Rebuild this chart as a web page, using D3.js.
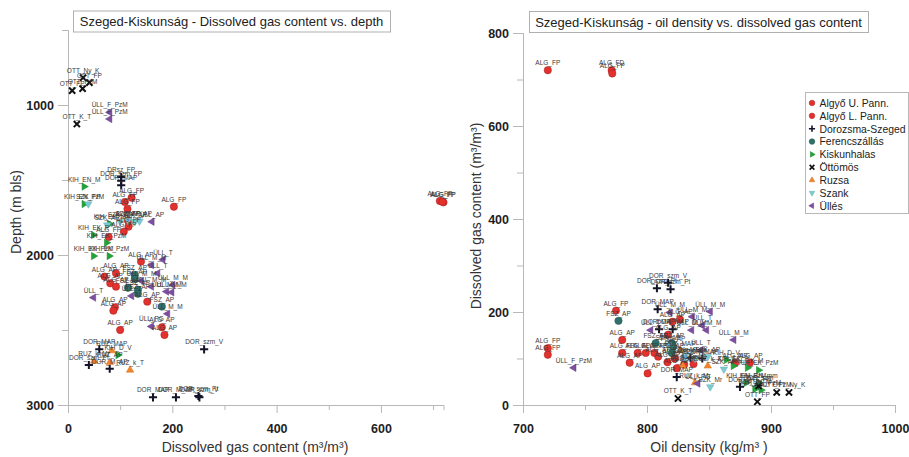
<!DOCTYPE html>
<html>
<head>
<meta charset="utf-8">
<script src="https://cdn.jsdelivr.net/npm/d3@7"></script>
<style>
  html, body { margin: 0; padding: 0; background: #fff; }
  svg { display: block; font-family: Arial, "Liberation Sans", sans-serif; }
</style>
</head>
<body>
<svg id="chart" width="909" height="457"></svg>
<script>
// ---- Series (legend order) ----
const seriesNames = ["Algyő U. Pann.", "Algyő L. Pann.", "Dorozsma-Szeged", "Ferencszállás",
  "Kiskunhalas", "Öttömös", "Ruzsa", "Szank", "Üllés"];

// ---- Left panel: [gas content m3/m3, depth m bls, label] ----
const depthAlgyoU = [[122,1618,"ALG_FP"],[109,1647,"ALG_FP"],[114,1693,"ALG_FP"],[203,1678,"ALG_FP"],
  [713,1640,"ALG_FP"],[720,1649,"ALG_FP"],[718,1645,"ALG_FP"],[115,1771,"ALG_FP"],[116,1811,"ALG_FP"],
  [107,1844,"ALG_FP"],[78,1880,"ALG_FP"]];
const depthAlgyoL = [[140,2044,"ALG_AP"],[70,2144,"ALG_AP"],[92,2122,"ALG_AP"],[81,2189,"ALG_AP"],
  [92,2211,"ALG_AP"],[152,2311,"ALG_AP"],[90,2349,"ALG_AP"],[87,2371,"ALG_AP"],[100,2500,"ALG_AP"],
  [180,2482,"ALG_AP"],[185,2533,"ALG_AP"]];
const depthDorozsma = [[102,1480,"DRsz_FP"],[102,1505,"DOR_szm_FP"],[102,1535,"DOR_MAP"],[60,2629,"DOR_MAP"],
  [261,2629,"DOR_szm_V"],[40,2733,"DOR_szm_Pt"],[80,2758,"DOR_M_AP"],[163,2949,"DOR_MAP"],
  [207,2949,"DOR_M_AP"],[250,2940,"DOR_szm_Pt"],[252,2949,"DOR_szm_V"]];
const depthFerencszallas = [[128,2133,"FSZ_AP"],[128,2160,"FSZ_AP"],[115,2218,"FSZ_AP"],[134,2231,"FSZ_AP"],
  [134,2258,"FSZ_AP"],[180,2344,"FSZ_AP"]];
const depthKiskunhalas = [[31,1544,"KIH_EN_M"],[31,1660,"KIH_EN_PzM"],[80,1793,"KIH_EK_M"],[49,1867,"KIH_EK_P"],
  [74,1918,"KIH_EK_PzM"],[49,2007,"KIH_EK_PzM"],[79,2007,"KIH_EK_PzM"],[96,2667,"KIH_D_V"]];
const depthOttomos = [[29,818,"OTT_Ny_K"],[41,851,"OTT_FP"],[28,891,"OTT_PzM"],[8,904,"OTT_FP"],[17,1127,"OTT_K_T"]];
const depthRuzsa = [[84,2638,"RUZ_MAP"],[50,2707,"RUZ_k_Mr"],[80,2716,"RUZ_AP"],[119,2767,"RUZ_k_T"]];
const depthSzank = [[39,1660,"SZK_FP"],[75,1800,"SZK_AP"],[100,1778,"SZK_AP"],[115,1770,"SZK_AP"],
  [128,1778,"SZK_AP"],[137,1775,"SZK_AP"]];
const depthUlles = [[80,1049,"ÜLL_F_PzM"],[80,1093,"ÜLL_F_PzM"],[161,1778,"ÜLL_AP"],[182,2031,"ÜLL_T"],
  [160,2067,"ÜLL_M_M"],[172,2122,"ÜLL_T"],[141,2173,"ÜLL_M_M"],[160,2211,"ÜLL_M_M"],[201,2200,"ÜLL_M_M"],
  [189,2244,"ÜLL_M_M"],[199,2249,"ÜLL_M_M"],[122,2273,"ÜLL_T"],[49,2284,"ÜLL_T"],[191,2392,"ÜLL_M_M"],
  [160,2476,"ÜLL_PG"]];

// ---- Right panel: [oil density kg/m3, gas content m3/m3, label] ----
const densAlgyoU = [[720,720,"ALG_FP"],[771.5,720,"ALG_FD"],[772,713,"ALG_FP"],[775,203,"ALG_FP"],
  [720,122,"ALG_FP"],[720,108,"ALG_FP"],[780,112,"ALG_FP"],[792.5,112,"ALG_FP"]];
const densAlgyoL = [[820.4,179,"ALG_AP"],[826.6,184,"ALG_AP"],[780,140,"ALG_AP"],[817,151,"ALG_AP"],
  [799,112,"ALG_AP"],[806,112,"ALG_AP"],[809,104,"ALG_AP"],[786,91,"ALG_AP"],[816.5,92,"ALG_AP"],
  [822.5,100,"ALG_AP"],[824,79,"ALG_AP"],[830,87,"ALG_AP"],[837.5,88,"ALG_AP"],[800.5,68,"ALG_AP"],
  [883,91,"ALG_AP"],[871,90,"ALG_AP"]];
const densDorozsma = [[817,263,"DOR_szm_V"],[808,251,"DOR_szm_Pt"],[819,249,"DOR_szm_Pt"],[808.6,206,"DOR_MAP"],
  [809.7,163,"DOR_MAP"],[820.7,163,"DOR_MAP"],[835,102,"DOR_MAP"],[844.6,100,"DOR_MAP"],[824,60,"DOR_MAP"],
  [875,39,"DOR_M"],[889.8,42,"DOR_szm"]];
const densFerencszallas = [[807,133,"FSZ_AP"],[820,133,"FSZ_AP"],[821,126,"FSZ_AP"],[820,112,"FSZ_AP"],
  [777,181,"FSZ_AP"]];
const densKiskunhalas = [[864,97,"KIH_D_V"],[869.6,84,"KIH_EK_P"],[881,80,"KIH_EK_M"],[890,75,"KIH_EK_PzM"],
  [880,48,"KIH_EN_PzM"],[890,48,"KIH_EN_mm"],[887,34,"KIH_EN_M"],[892,32,"KIH_EN_PzM"]];
const densOttomos = [[825,14,"OTT_K_T"],[889,7,"OTT_FP"],[904.6,27,"OTT_PzM"],[914.5,27,"OTT_Ny_K"],[890,41,"OTT_FP"]];
const densRuzsa = [[826.6,117,"RUZ_MAP"],[829,84,"RUZ_AP"],[849,84,"RUZ_k_T"],[838.7,48,"RUZ_k_Mr"]];
const densSzank = [[817,129,"SZK_AP"],[830.6,104,"SZK_AP"],[838.7,100,"SZK_AP"],[849,104,"SZK_AP"],
  [862,77,"SZK_AP"],[851,39,"SZK_Mr"]];
const densUlles = [[818.5,199,"ÜLL_M_M"],[836.5,190,"ÜLL_M_M"],[851,201,"ÜLL_M_M"],[844.6,171,"ÜLL_T"],
  [848,161,"ÜLL_M_M"],[836,161,"ÜLL_M_M"],[803,161,"ÜLL_T"],[870,140,"ÜLL_M_M"],[843.5,118,"ÜLL_T"],
  [741,80,"ÜLL_F_PzM"],[841,46,"ÜLL_PG"]];

// ---- Axis ticks ----
const depthMajorTicks = [1000, 2000, 3000];
const depthMinorTicks = [500, 1500, 2500];
const gasMajorTicksX = [0, 200, 400, 600];
const gasMinorTicksX = [100, 300, 500, 700];
const densMajorTicks = [700, 800, 900, 1000];
const densMinorTicks = [750, 850, 950];
const gasMajorTicksY = [0, 200, 400, 600, 800];
const gasMinorTicksY = [100, 300, 500, 700];

// ---- Marker styling per series ----
const markerStyle = [
  { shape: "circle",  fill: "#e3312d", stroke: "#a82020" },
  { shape: "circle",  fill: "#e3312d", stroke: "#a82020" },
  { shape: "plus",    fill: "none",    stroke: "#141428" },
  { shape: "circle",  fill: "#2f706a", stroke: "#1f5450" },
  { shape: "tri-right", fill: "#22a33a", stroke: "#1a8a2e" },
  { shape: "times",   fill: "none",    stroke: "#111" },
  { shape: "tri-up",  fill: "#f2842c", stroke: "#d86e1c" },
  { shape: "tri-down", fill: "#7ecad3", stroke: "#62b2bc" },
  { shape: "tri-left", fill: "#7d4f9e", stroke: "#643a86" }
];

const depthSeries = [depthAlgyoU, depthAlgyoL, depthDorozsma, depthFerencszallas, depthKiskunhalas,
  depthOttomos, depthRuzsa, depthSzank, depthUlles];
const densSeries = [densAlgyoU, densAlgyoL, densDorozsma, densFerencszallas, densKiskunhalas,
  densOttomos, densRuzsa, densSzank, densUlles];

const svg = d3.select("#chart");
const axisColor = "#b8b8b8";

// s = nominal marker width in px
function markerPath(shape, s) {
  switch (shape) {
    case "circle": return d3.symbol().type(d3.symbolCircle).size(Math.PI * (s / 2) * (s / 2))();
    case "plus": return `M${-s*0.55},0H${s*0.55}M0,${-s*0.55}V${s*0.55}`;
    case "times": return `M${-s*0.42},${-s*0.42}L${s*0.42},${s*0.42}M${-s*0.42},${s*0.42}L${s*0.42},${-s*0.42}`;
    default: return d3.symbol().type(d3.symbolTriangle).size(0.433 * s * s)();
  }
}
function markerRotate(shape) {
  return { "tri-right": 90, "tri-down": 180, "tri-left": -90 }[shape] || 0;
}

function drawMarker(g, x, y, i, s, sw) {
  const st = markerStyle[i];
  g.append("path")
    .attr("d", markerPath(st.shape, s))
    .attr("transform", `translate(${x},${y}) rotate(${markerRotate(st.shape)})`)
    .attr("fill", st.fill)
    .attr("stroke", st.stroke)
    .attr("stroke-width", (st.shape === "plus" || st.shape === "times") ? sw : 0.5);
}

function styleAxis(g) {
  g.selectAll(".domain").attr("stroke", axisColor);
  g.selectAll(".tick line").attr("stroke", axisColor);
  g.selectAll(".tick text").attr("fill", "#1e1e1e").attr("font-size", "12.5px")
    .attr("font-weight", "bold").attr("font-family", "Arial, 'Liberation Sans', sans-serif");
}

function drawPanel(opt) {
  const { x, y, series, xMajor, xMinor, yMajor, yMinor } = opt;
  const g = svg.append("g");

  // minor ticks (unlabelled)
  g.append("g").attr("transform", `translate(0,${y.range()[0]})`)
    .call(d3.axisBottom(x).tickValues(xMinor).tickSize(5).tickFormat(""))
    .call(styleAxis);
  g.append("g").attr("transform", `translate(${x.range()[0]},0)`)
    .call(d3.axisLeft(y).tickValues(yMinor).tickSize(6).tickFormat(""))
    .call(styleAxis);
  // major ticks
  g.append("g").attr("transform", `translate(0,${y.range()[0]})`)
    .call(d3.axisBottom(x).tickValues(xMajor).tickSize(8).tickSizeOuter(0).tickPadding(11).tickFormat(d3.format("d")))
    .call(styleAxis);
  g.append("g").attr("transform", `translate(${x.range()[0]},0)`)
    .call(d3.axisLeft(y).tickValues(yMajor).tickSize(10).tickSizeOuter(0).tickPadding(4).tickFormat(d3.format("d")))
    .call(styleAxis);

  // points with labels
  const pts = g.append("g");
  const lbl = g.append("g");
  series.forEach((arr, i) => {
    arr.forEach(d => {
      const px = x(d[opt.xi]), py = y(d[opt.yi]);
      drawMarker(pts, px, py, i, 7.4, 2);
      lbl.append("text").attr("x", px).attr("y", py - 5)
        .attr("text-anchor", "middle").attr("font-size", "6.5px")
        .attr("fill", "#3a3a3a").text(d[2]);
    });
  });
  return g;
}

// ---- Left panel: dissolved gas content vs depth ----
const xGas = d3.scaleLinear().domain([0, 720]).range([68, 443.5]);
// depth axis grows downward: first range value is the x-axis position
const yDepth = d3.scaleLinear().domain([3000, 500]).range([405, 30]);
drawPanel({ x: xGas, y: yDepth, series: depthSeries, xMajor: gasMajorTicksX, xMinor: gasMinorTicksX,
  yMajor: depthMajorTicks, yMinor: depthMinorTicks, xi: 0, yi: 1 });

// ---- Right panel: oil density vs dissolved gas content ----
const xDens = d3.scaleLinear().domain([700, 1000]).range([523, 895]);
const yGas = d3.scaleLinear().domain([0, 800]).range([405, 33]);
drawPanel({ x: xDens, y: yGas, series: densSeries, xMajor: densMajorTicks, xMinor: densMinorTicks,
  yMajor: gasMajorTicksY, yMinor: gasMinorTicksY, xi: 0, yi: 1 });

// ---- Titles in boxes ----
function titleBox(x0, x1, cy, text) {
  const g = svg.append("g");
  g.append("rect").attr("x", x0 + 0.5).attr("y", cy - 10.5).attr("width", x1 - x0).attr("height", 21)
    .attr("fill", "#fff").attr("stroke", "#b0b0b0").attr("stroke-width", 1);
  g.append("text").attr("x", (x0 + x1) / 2).attr("y", cy + 4.8).attr("text-anchor", "middle")
    .attr("font-size", "13px").attr("fill", "#222").text(text);
}
titleBox(73, 390, 21.5, "Szeged-Kiskunság - Dissolved gas content vs. depth");
titleBox(529, 868, 22, "Szeged-Kiskunság - oil density vs. dissolved gas content");

// ---- Axis titles ----
const axisTitle = (x, y, text, rot) => svg.append("text")
  .attr("transform", `translate(${x},${y}) rotate(${rot || 0})`)
  .attr("text-anchor", "middle").attr("font-size", "14px").attr("fill", "#333").text(text);
axisTitle(255, 452, "Dissolved gas content (m³/m³)");
axisTitle(21, 212, "Depth (m bls)", -90);
axisTitle(481, 216, "Dissolved gas content (m³/m³)", -90);
axisTitle(709, 452, "Oil density (kg/m³ )");

// ---- Legend ----
const lg = svg.append("g");
lg.append("rect").attr("x", 805.5).attr("y", 92.5).attr("width", 103).attr("height", 121)
  .attr("fill", "#fff").attr("stroke", "#b8b8b8");
seriesNames.forEach((name, i) => {
  const yy = 103 + i * 12.85;
  drawMarker(lg, 812, yy, i, 5.6, 1.6);
  lg.append("text").attr("x", 819.5).attr("y", yy + 3.8).attr("font-size", "10.4px").attr("fill", "#222").text(name);
});
</script>
</body>
</html>
